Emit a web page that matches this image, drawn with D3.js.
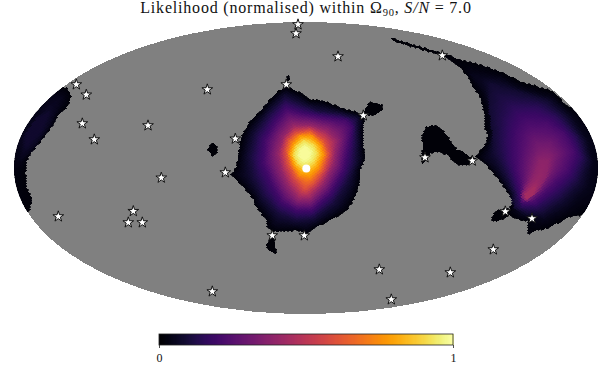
<!DOCTYPE html>
<html><head><meta charset="utf-8">
<style>html,body{margin:0;padding:0;background:#fff}svg{display:block}text{font-family:"Liberation Serif",serif;fill:#111}</style>
<script src="https://d3js.org/d3.v7.min.js"></script></head><body><svg id="c" width="612" height="388"></svg>
<script>
// All map geometry below is in Mollweide plane units (x -292..292, y -146..146).
const stars=[[-229.7,84],[-219.7,73.7],[-223.7,45],[-211.7,29],[-158,43],[-144.7,-9.3],[-247.7,-48],[-172.7,-42.7],[-177.7,-54],[-163.7,-54],[-98.7,79],[-19.7,84],[-70.7,29.7],[-80.7,-4],[57.3,53],[-33.7,-67],[-1.7,-67],[-8,144],[-10,135],[32,112],[136.3,113],[166.3,7.7],[119,11],[199.3,-43],[226,-50],[187.3,-81],[73.3,-101],[144.3,-104],[-93.7,-123],[85.3,-131]];
const source=[0.3,-0.5];
const mainOutline=[[-20,81.3],[-14.3,78.7],[-6,75.3],[4,68],[17.3,67.3],[27.3,63],[40.7,58],[52.3,55.3],[58.3,49.7],[56.7,38],[57.3,21.3],[59,9.7],[54,-2],[53.3,-15.3],[49,-28.7],[40.7,-42],[27.3,-50.3],[10.7,-58.7],[0.7,-65.3],[-9.3,-62],[-29.3,-63.7],[-37.7,-60.3],[-39.3,-52],[-51,-37],[-52.7,-30.3],[-64.3,-17],[-74.3,-7],[-69.3,1.3],[-66.7,18],[-64.3,31.3],[-56,46.3],[-46,56.3],[-37.7,66.3],[-27.7,76.3]];
const mainLevelValues=[0.1,0.2,0.4,0.6,0.75,0.92,0.985];
const mainLevels=[
[[-21,71.3],[-6,64.7],[10.7,58],[34,54.7],[50.7,49.7],[50.7,24.7],[49,4.7],[40.7,-15.3],[27.3,-35.3],[7.3,-50.3],[-9.3,-52],[-27.7,-45.3],[-42.7,-28.7],[-52.7,-8.7],[-56,11.3],[-51,34.7],[-37.7,54.7]],
[[-20,59.7],[-2.7,54.7],[17.3,51.3],[40.7,48],[45.7,41.3],[42.3,21.3],[37.3,-2],[24,-25.3],[5.7,-42],[-9.3,-42],[-24.3,-33.7],[-34.3,-15.3],[-42.7,4.7],[-41,28],[-31,46.3]],
[[-12.7,43],[4,43],[20.7,38],[30.7,28],[27.3,4.7],[17.3,-15.3],[4,-30.3],[-7.7,-30.3],[-17.7,-17],[-24.3,-2],[-27.7,14.7],[-22.7,31.3]],
[[-11,34.7],[4,38],[17.3,28],[22.3,14.7],[17.3,-2],[7.3,-15.3],[-1,-20.3],[-11,-8.7],[-17.7,4.7],[-20,18],[-17.7,28]],
[[-6,33],[5.7,33],[15.7,23],[18,13],[12.3,-0.3],[4,-8.7],[-6,-7],[-12.7,3],[-16.7,14.7],[-13.3,24.7]],
[[-2,27.3],[7.3,23],[10.7,14.7],[7.3,6.3],[-1,1.3],[-7.7,4.7],[-12,13],[-9.3,21.3]],
[[-1,22],[4.7,16.3],[2.3,9.7],[-2.7,8],[-6.7,13],[-5.3,18.7]]];
const rightOutline=[[83.3,130.7],[104,124],[127.3,117.3],[142.3,113],[154,108],[174,103],[194,96.3],[214,86.3],[230.7,81.3],[247.3,76.3],[260.7,62],[307.3,48],[314,-2],[300.7,-52],[277.3,-45.3],[274,-47],[264,-48.7],[254,-53.7],[240.7,-60.3],[230.7,-62],[222.3,-66],[221.7,-55.3],[222.3,-52],[214,-52],[205.7,-48.7],[202.3,-45.3],[207.3,-33.7],[200.7,-22],[190.7,-8.7],[180.7,3],[170.7,11.3],[174,16.3],[180.7,24.7],[182.3,33],[179,41.3],[179,51.3],[177.3,61.3],[174,71.3],[167.3,81.3],[162.3,91.3],[154,101.3],[142.3,109.7],[127.3,115.3],[104,122],[87.3,127.3]];
const rightLevelValues=[0.045,0.085,0.15,0.22,0.31,0.38,0.44];
const rightLevels=[
[[165,94],[194,90],[214,80],[247,70],[268,50],[282,28],[288,5],[282,-20],[262,-40],[238,-52],[215,-47],[208,-40],[204,-24],[190,-3],[178,10],[184,25],[187,40],[184,60],[178,78]],
[[184,84.7],[214,76.3],[240.7,68],[260.7,51.3],[277.3,28],[282.3,8],[274,-15.3],[257.3,-32],[237.3,-45.3],[220.7,-45.3],[207.3,-38.7],[207.3,-25.3],[197.3,-5.3],[187.3,14.7],[185.7,38],[182.3,61.3]],
[[207.3,61.3],[230.7,61.3],[250.7,51.3],[269,31.3],[275.7,11.3],[267.3,-8.7],[250.7,-25.3],[230.7,-38.7],[215.7,-38.7],[212.3,-28.7],[207.3,-12],[200.7,8],[199,28],[200.7,48]],
[[220.7,44.7],[240.7,44.7],[257.3,34.7],[267.3,16.3],[260.7,-2],[244,-18.7],[227.3,-33.7],[215.7,-33.7],[215.7,-20.3],[212.3,-2],[212.3,18],[214,34.7]],
[[230.7,24.7],[244,24.7],[252.3,14.7],[247.3,-2],[234,-22],[220.7,-33.7],[214,-28.7],[220.7,-12],[224,8]],
[[234,8],[242.3,8],[240.7,-7],[229,-27],[219,-32],[217.3,-25.3],[227.3,-8.7]],
[[224,-22],[229,-18.7],[227.3,-27],[220.7,-30.3],[218,-27]]];
const leftOutline=[[-239.3,79.7],[-235.3,73],[-237.7,63],[-249.3,51.3],[-252.7,43],[-258.3,36.3],[-264.3,28],[-274.3,16.3],[-279.3,8],[-281,-5],[-280,-18.7],[-274.3,-32],[-277.7,-43.7],[-300,-60],[-320,0],[-300,50],[-260,85]];
const leftLevelValues=[0.05,0.08];
const leftLevels=[
[[-245,70],[-255,45],[-272,20],[-285,10],[-285,30],[-270,50],[-255,68]],
[[-258,55],[-265,37],[-280,22],[-280,35],[-270,50]]];
const islandPatch=[[202.3,-40.3],[189,-43.7],[185.7,-52],[190.7,-53.7],[200.7,-48.7],[205.7,-45.3]];
const islandArm=[[170.7,9.7],[162.3,3],[154,3],[145.7,8],[142.3,13],[132.3,16.3],[124,14.7],[119,6.3],[115.7,3],[117.3,21.3],[116.7,33],[120.7,41.3],[130.7,42],[140.7,33],[145.7,24.7],[150.7,18],[157.3,16.3],[164,10.7]];
const islandLeft=[[-92.7,25.3],[-88.7,21.3],[-89.3,14.7],[-92.7,11.3],[-98.7,18.7]];
const islandSpike=[[-17.7,94],[-16,88],[-20,87.3]];
const islandRight=[[64,65.7],[75.7,63],[76.7,58],[69,53],[62.3,53],[58,56.3]];
const islandBottom=[[-33.7,-68.7],[-31,-75.3],[-30,-86],[-37.7,-82],[-40,-77],[-36,-72]];
const cbTicks=[0,1];
const titleParts=[["Likelihood (normalised) within Ω",""],["90","sub"],[", ",""],["S/N","it"],[" = 7.0",""]];

const svg=d3.select("#c");
const X=d3.scaleLinear().domain([-292,292]).range([14,598]);
const Y=d3.scaleLinear().domain([-146,146]).range([314,22]);
const color=d3.scaleSequential(d3.interpolateInferno).domain([0,1]);
const BASE=0.015;
const regions=[
 {outline:mainOutline,levels:mainLevels,values:mainLevelValues},
 {outline:rightOutline,levels:rightLevels,values:rightLevelValues},
 {outline:leftOutline,levels:leftLevels,values:leftLevelValues},
 {outline:islandPatch,levels:[],values:[]},{outline:islandArm,levels:[],values:[]},
 {outline:islandLeft,levels:[],values:[]},{outline:islandSpike,levels:[],values:[]},
 {outline:islandRight,levels:[],values:[]},{outline:islandBottom,levels:[],values:[]}];
svg.append("clipPath").attr("id","el").append("ellipse")
 .attr("cx",X(0)).attr("cy",Y(0)).attr("rx",X(292)-X(0)).attr("ry",Y(-146)-Y(0));
svg.append("ellipse").attr("cx",X(0)).attr("cy",Y(0)).attr("rx",X(292)-X(0)).attr("ry",Y(-146)-Y(0))
 .attr("fill","#808080").attr("shape-rendering","crispEdges");
const line=d3.line().x(d=>X(d[0])).y(d=>Y(d[1])).curve(d3.curveLinearClosed);
const map=svg.append("g").attr("clip-path","url(#el)");
map.selectAll("path.base").data(regions).join("path").attr("class","base").attr("d",d=>line(d.outline))
 .attr("fill",color(BASE)).attr("shape-rendering","crispEdges");
function dist(p,poly){let b=Infinity;for(let i=0,n=poly.length;i<n;i++){const a=poly[i],c=poly[(i+1)%n],dx=c[0]-a[0],dy=c[1]-a[1];
 const t=Math.max(0,Math.min(1,((p[0]-a[0])*dx+(p[1]-a[1])*dy)/(dx*dx+dy*dy)));const ex=p[0]-a[0]-t*dx,ey=p[1]-a[1]-t*dy,e=ex*ex+ey*ey;if(e<b)b=e;}return Math.sqrt(b);}
function field(p){for(const r of regions){if(!d3.polygonContains(r.outline,p))continue;
 const polys=[r.outline,...r.levels],vals=[BASE,...r.values];let k=0;
 for(let i=polys.length-1;i>=0;i--){if(d3.polygonContains(polys[i],p)){k=i;break;}}
 if(k===polys.length-1)return vals[k];
 const dA=dist(p,polys[k]),dB=dist(p,polys[k+1]);
 return vals[k]+(vals[k+1]-vals[k])*dA/(dA+dB);}return null;}
const w=3.6,h=2.6,cells=[];
for(let j=-115;j<=115;j++)for(let i=-170;i<=170;i++){if((i+j)&1)continue;
 const p=[i*w/2,j*h/2];if((p[0]/292)**2+(p[1]/146)**2>1)continue;const v=field(p);if(v!==null)cells.push({p,v});}
const dw=(X(w/2)-X(0)),dh=(Y(0)-Y(h/2));
map.selectAll("path.cell").data(cells).join("path").attr("class","cell")
 .attr("d",d=>{const x=X(d.p[0]),y=Y(d.p[1]);return `M${x},${y-dh}L${x+dw},${y}L${x},${y+dh}L${x-dw},${y}Z`;})
 .attr("fill",d=>color(d.v)).attr("stroke",d=>color(d.v)).attr("stroke-width",0.7).attr("shape-rendering","crispEdges");
svg.selectAll("path.star").data(stars).join("path").attr("class","star")
 .attr("d",d3.symbol().type(d3.symbolStar).size(36))
 .attr("transform",d=>`translate(${X(d[0])},${Y(d[1])+0.5})`)
 .attr("fill","#fff").attr("stroke","#111").attr("stroke-width",1).attr("stroke-linejoin","miter");
svg.append("circle").attr("cx",X(source[0])).attr("cy",Y(source[1])).attr("r",4).attr("fill","#fff");
// colour bar
const cbx=d3.scaleLinear().domain([0,1]).range([159,453]);
const cb=svg.append("g");
cb.selectAll("rect").data(d3.range(0,1,1/294)).join("rect").attr("x",d=>cbx(d)).attr("y",334).attr("width",1.6).attr("height",11)
 .attr("fill",d=>color(d)).attr("shape-rendering","crispEdges");
cb.append("rect").attr("x",159).attr("y",334).attr("width",294).attr("height",11).attr("fill","none").attr("stroke","#222").attr("stroke-width",0.8);
const ax=svg.append("g").attr("transform","translate(0,345)").call(d3.axisBottom(cbx).tickValues(cbTicks).tickSize(3).tickPadding(5).tickFormat(d3.format("d")));
ax.select(".domain").remove();ax.selectAll("line").attr("stroke","#222").attr("stroke-width",0.8);
ax.selectAll("text").attr("font-family","Liberation Serif").attr("font-size",12).attr("fill","#111");
// title
const t=svg.append("text").attr("x",306).attr("y",13).attr("text-anchor","middle").attr("font-size",16).attr("letter-spacing",0.8);
titleParts.forEach(([s,k])=>{const sp=t.append("tspan").text(s).attr("xml:space","preserve").style("white-space","pre");
 if(k==="sub")sp.attr("font-size",10.5).attr("dy",2.5);
 if(k==="it")sp.attr("font-style","italic");
 if(s===", ")sp.attr("dy",-2.5);});
</script></body></html>
